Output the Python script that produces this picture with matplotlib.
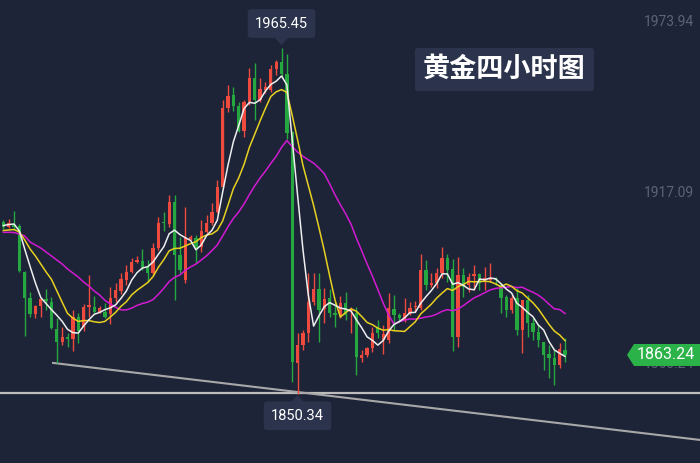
import numpy as np
import pandas as pd
import matplotlib
matplotlib.use("Agg")
import matplotlib.pyplot as plt
from matplotlib.patches import Polygon

plt.rcParams['font.family'] = ['Roboto', 'Noto Sans CJK SC', 'DejaVu Sans']

# ---- data: gold, 4-hour candles ----
opens = [1907.55, 1905.88, 1906.45, 1906.12, 1890.92, 1882.28, 1876.76, 1879.52, 1881.75, 1880.95,
         1871.97, 1867.65, 1869.11, 1868.45, 1875.76, 1872.64, 1879.09, 1879.09, 1877.62, 1877.62,
         1876.86, 1882.08, 1884.61, 1888.16, 1890.92, 1894.25, 1894.48, 1892.59, 1890.59, 1898.80,
         1907.35, 1906.68, 1914.20, 1896.48, 1888.16, 1901.89, 1902.03, 1899.23, 1904.22, 1907.21,
         1910.87, 1919.18, 1945.25, 1949.67, 1946.01, 1937.80, 1947.44, 1955.42, 1948.00, 1951.33,
         1951.33, 1958.31, 1960.74, 1956.65, 1937.47, 1860.47, 1866.55, 1870.64, 1880.95, 1885.07,
         1878.42, 1882.08, 1877.09, 1876.53, 1880.42, 1877.96, 1877.09, 1862.13, 1863.23, 1865.46,
         1872.64, 1868.22, 1868.22, 1878.52, 1876.53, 1874.87, 1877.09, 1879.09, 1878.75, 1891.49,
         1886.40, 1887.27, 1890.39, 1895.38, 1891.72, 1869.11, 1889.83, 1886.50, 1889.59, 1890.16,
         1887.40, 1888.16, 1888.73, 1886.50, 1882.61, 1878.19, 1882.08, 1871.54, 1881.51, 1873.97,
         1870.98, 1867.65, 1863.56, 1862.13, 1859.91, 1864.89]
highs = [1908.11, 1908.34, 1911.10, 1906.78, 1891.00, 1884.17, 1879.85, 1882.28, 1885.17, 1882.41,
         1875.43, 1872.64, 1870.64, 1878.19, 1877.09, 1880.19, 1889.83, 1882.84, 1879.52, 1880.52,
         1885.84, 1887.17, 1890.49, 1893.15, 1895.38, 1896.14, 1898.47, 1894.81, 1900.36, 1909.21,
         1910.67, 1916.42, 1916.42, 1902.56, 1912.53, 1903.12, 1903.12, 1908.11, 1909.77, 1913.66,
         1921.41, 1948.00, 1952.99, 1952.43, 1947.44, 1948.00, 1958.54, 1960.41, 1955.22, 1954.09,
         1959.64, 1961.30, 1965.45, 1963.30, 1937.70, 1870.64, 1871.54, 1890.39, 1890.39, 1890.39,
         1885.40, 1885.07, 1880.95, 1882.84, 1884.27, 1879.29, 1879.29, 1864.89, 1865.99, 1872.64,
         1874.87, 1873.20, 1883.74, 1883.18, 1877.29, 1882.08, 1880.95, 1881.18, 1896.81, 1894.81,
         1890.49, 1892.15, 1899.23, 1896.81, 1895.05, 1895.91, 1892.05, 1890.59, 1893.15, 1890.49,
         1892.59, 1893.72, 1889.26, 1887.07, 1883.18, 1883.18, 1885.40, 1881.60, 1883.18, 1875.43,
         1873.20, 1867.70, 1866.55, 1864.89, 1867.32, 1868.78]
lows = [1905.02, 1905.35, 1904.79, 1890.92, 1869.55, 1875.96, 1875.43, 1875.96, 1878.19, 1871.90,
        1860.47, 1866.55, 1865.99, 1864.66, 1867.12, 1871.31, 1875.96, 1877.09, 1877.19, 1875.53,
        1873.54, 1880.95, 1883.51, 1886.50, 1890.39, 1893.72, 1891.49, 1887.60, 1889.83, 1898.14,
        1904.45, 1905.88, 1881.51, 1890.39, 1887.27, 1901.46, 1893.72, 1897.57, 1903.69, 1906.45,
        1910.34, 1918.65, 1944.12, 1944.35, 1937.47, 1935.80, 1946.34, 1941.36, 1947.44, 1950.23,
        1950.76, 1956.32, 1955.75, 1934.94, 1854.36, 1850.34, 1864.89, 1867.65, 1879.85, 1867.65,
        1873.77, 1875.96, 1872.64, 1875.63, 1874.87, 1870.44, 1856.58, 1860.90, 1862.67, 1864.33,
        1868.78, 1863.56, 1867.12, 1871.54, 1874.30, 1874.20, 1876.53, 1877.53, 1878.19, 1884.84,
        1885.84, 1885.50, 1888.73, 1887.60, 1864.66, 1865.79, 1882.61, 1884.27, 1884.84, 1884.84,
        1884.84, 1887.60, 1886.50, 1877.09, 1875.96, 1877.19, 1869.88, 1863.80, 1869.31, 1868.22,
        1865.99, 1858.24, 1855.48, 1853.26, 1858.81, 1861.00]
closes = [1905.68, 1907.21, 1905.88, 1891.26, 1882.28, 1876.86, 1879.52, 1881.75, 1881.28, 1872.11,
          1867.65, 1869.31, 1868.55, 1875.76, 1871.31, 1879.29, 1879.85, 1877.62, 1878.86, 1875.96,
          1882.28, 1884.84, 1888.50, 1890.92, 1894.25, 1894.58, 1892.59, 1890.59, 1898.80, 1907.21,
          1907.01, 1914.20, 1896.48, 1891.49, 1902.03, 1902.36, 1898.70, 1904.45, 1907.21, 1910.87,
          1919.18, 1945.25, 1949.33, 1946.01, 1937.80, 1947.44, 1955.42, 1948.00, 1951.76, 1952.43,
          1958.31, 1960.74, 1956.65, 1937.13, 1861.00, 1866.55, 1870.64, 1880.95, 1885.07, 1878.19,
          1881.75, 1877.29, 1876.53, 1880.42, 1876.53, 1878.42, 1862.67, 1863.23, 1865.46, 1870.64,
          1870.64, 1870.21, 1878.75, 1876.53, 1875.43, 1877.09, 1878.75, 1879.29, 1891.49, 1886.50,
          1887.27, 1890.39, 1895.38, 1891.49, 1869.31, 1889.83, 1885.94, 1889.26, 1890.26, 1887.07,
          1888.73, 1888.73, 1888.16, 1882.08, 1878.19, 1882.08, 1871.54, 1881.51, 1873.77, 1870.98,
          1868.22, 1863.23, 1862.33, 1859.91, 1865.12, 1863.24]

# moving averages before a full window is available
ma5_head = [1906.28, 1906.61, 1906.78, 1904.45]
ma10_head = [1904.62, 1904.79, 1904.95, 1904.12, 1901.46, 1898.47, 1896.14, 1893.48, 1890.82]
ma20_head = [1904.02, 1904.02, 1903.96, 1903.46, 1902.79, 1900.80, 1899.80, 1898.80, 1897.47, 1896.14,
             1894.81, 1893.48, 1891.82, 1890.49, 1889.16, 1887.50, 1886.17, 1884.51, 1883.18]

price_ticks = [1973.94, 1917.09, 1860.24]
support_level = 1850.7
trend_start = (9.3, 1860.6)
trend_end = (130.2, 1835.0)
title = "黄金四小时图"

BG = "#1d2437"
BOX = "#2b344c"
RED = "#ee4b3e"
GREEN = "#25a83f"

n = len(closes)
idx = np.arange(n)
o = np.array(opens)
c = np.array(closes)
h = np.array(highs)
l = np.array(lows)


def moving_average(period, head):
    ma = pd.Series(closes).rolling(period).mean().to_numpy()
    ma[:period - 1] = head
    return ma


fig = plt.figure(figsize=(7, 4.63), dpi=100, facecolor=BG)
ax = fig.add_axes([0, 0, 1, 1])
ax.set_facecolor(BG)
xmin, xmax = -0.62, 130.22
ymin, ymax = 1827.33, 1981.25
ax.set_xlim(xmin, xmax)
ax.set_ylim(ymin, ymax)
ax.axis('off')
px_x = (xmax - xmin) / 700
px_y = (ymax - ymin) / 463

# candles
up = c >= o
cols = np.where(up, RED, GREEN)
ax.vlines(idx, l, h, colors=cols, linewidth=1.0, zorder=2)
body_bot = np.minimum(o, c)
body_h = np.maximum(np.abs(c - o), 0.4)
ax.bar(idx, body_h, bottom=body_bot, width=0.62, color=cols, linewidth=0, zorder=3)

# moving averages
ax.plot(idx, moving_average(20, ma20_head), color="#d21ad2", lw=1.1, zorder=4)
ax.plot(idx, moving_average(10, ma10_head), color="#e8d020", lw=1.1, zorder=4)
ax.plot(idx, moving_average(5, ma5_head), color="#eeeeee", lw=1.1, zorder=5)

# support + trend lines
ax.axhline(support_level, color="#bdbdbd", lw=1.6, zorder=1)
ax.plot([trend_start[0], trend_end[0]], [trend_start[1], trend_end[1]],
        color="#a8a8a8", lw=1.5, zorder=1)

# price scale labels
for p in price_ticks:
    ax.text(xmax - 6 * px_x, p, f"{p:.2f}", color="#5b6378", fontsize=10,
            ha='right', va='center', zorder=6)

# high / low markers
i_hi = int(np.argmax(h))
i_lo = int(np.argmin(l))
ax.annotate(f"{h[i_hi]:.2f}", xy=(i_hi, h[i_hi]), xytext=(0, 24), textcoords='offset pixels',
            ha='center', va='center', color='white', fontsize=10.5, zorder=8,
            bbox=dict(boxstyle='round,pad=0.5,rounding_size=0.2', fc=BOX, ec='none'))
ax.add_patch(Polygon([(i_hi - 7 * px_x, h[i_hi] + 10 * px_y), (i_hi + 7 * px_x, h[i_hi] + 10 * px_y),
                      (i_hi, h[i_hi] + 2.5 * px_y)], closed=True, fc=BOX, ec='none', zorder=7))
ax.annotate(f"{l[i_lo]:.2f}", xy=(i_lo, l[i_lo]), xytext=(0, -22), textcoords='offset pixels',
            ha='center', va='center', color='white', fontsize=10.5, zorder=8,
            bbox=dict(boxstyle='round,pad=0.5,rounding_size=0.2', fc=BOX, ec='none'))
ax.add_patch(Polygon([(i_lo - 7 * px_x, l[i_lo] - 8.5 * px_y), (i_lo + 7 * px_x, l[i_lo] - 8.5 * px_y),
                      (i_lo, l[i_lo] - 1.5 * px_y)], closed=True, fc=BOX, ec='none', zorder=7))

# last price tag (covers the lowest scale label, as in the original)
last = c[-1]
tag = [(xmax, last + 11 * px_y), (xmax - 66 * px_x, last + 11 * px_y), (xmax - 73 * px_x, last),
       (xmax - 66 * px_x, last - 11 * px_y), (xmax, last - 11 * px_y)]
ax.add_patch(Polygon(tag, closed=True, fc="#2bb34a", ec='none', zorder=9))
ax.text(xmax - 34 * px_x, last, f"{last:.2f}", color='white', fontsize=11.5,
        ha='center', va='center', zorder=10)

# title box
ax.text(0.7207, 0.85, title, transform=ax.transAxes, color='white', fontsize=19.5,
        fontweight='bold', ha='center', va='center', zorder=10,
        bbox=dict(boxstyle='round,pad=0.3,rounding_size=0.1', fc=BOX, ec='none'))

fig.savefig("out.png", dpi=100, facecolor=BG)
